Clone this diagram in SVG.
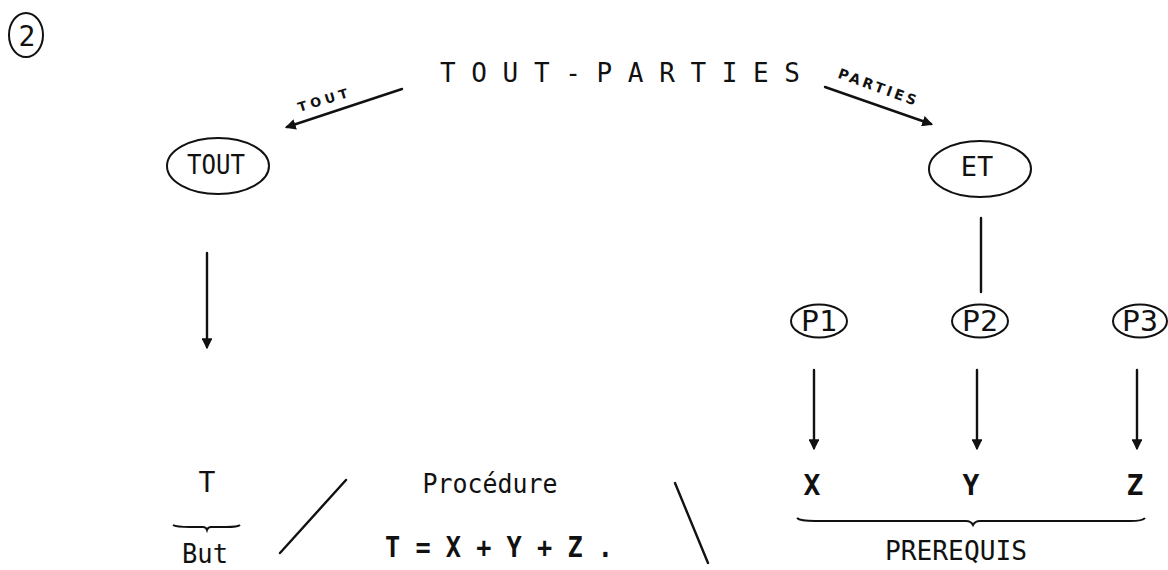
<svg xmlns="http://www.w3.org/2000/svg" width="1168" height="570" viewBox="0 0 1168 570">
  <style>
    .t { font-family: "DejaVu Sans Mono", "Liberation Mono", monospace; fill: #111; }
    .b { font-weight: bold; }
    .h { font-family: "DejaVu Sans", "Liberation Sans", sans-serif; font-weight: bold; fill: #111; }
    .node { fill: none; stroke: #111; stroke-width: 2; }
    .edge { fill: none; stroke: #111; stroke-width: 2.4; stroke-linecap: round; }
  </style>
  <defs>
    <marker id="head" viewBox="0 0 10 10" refX="8" refY="5" markerWidth="4.5" markerHeight="4.5" orient="auto" markerUnits="strokeWidth">
      <path d="M0,0 L10,5 L0,10 Z" fill="#111"/>
    </marker>
  </defs>
  <rect width="1168" height="570" fill="#fff"/>

  <!-- page number -->
  <g id="page-number">
    <ellipse class="node" cx="26" cy="35" rx="17" ry="22"/>
    <text class="t" x="27" y="46" font-size="28" text-anchor="middle">2</text>
  </g>

  <!-- heading -->
  <g id="title">
    <text class="t" x="440" y="82" font-size="26" textLength="360" lengthAdjust="spacingAndGlyphs">T O U T - P A R T I E S</text>
  </g>

  <g id="tout">
    <ellipse class="node" cx="218" cy="166" rx="51" ry="28"/>
    <text class="t" x="216" y="174" font-size="27" text-anchor="middle" textLength="58" lengthAdjust="spacingAndGlyphs">TOUT</text>
  </g>

  <g id="et">
    <ellipse class="node" cx="980" cy="169" rx="51" ry="28"/>
    <text class="t" x="977" y="176" font-size="27" text-anchor="middle">ET</text>
  </g>

  <g id="p1">
    <ellipse class="node" cx="819" cy="321" rx="28" ry="16.5"/>
    <text class="t" x="819" y="331" font-size="28" text-anchor="middle" textLength="36" lengthAdjust="spacingAndGlyphs">P1</text>
  </g>
  <g id="p2">
    <ellipse class="node" cx="980" cy="321" rx="28" ry="16.5"/>
    <text class="t" x="980" y="331" font-size="28" text-anchor="middle" textLength="36" lengthAdjust="spacingAndGlyphs">P2</text>
  </g>
  <g id="p3">
    <ellipse class="node" cx="1140" cy="321" rx="27" ry="16.5"/>
    <text class="t" x="1140" y="331" font-size="28" text-anchor="middle" textLength="36" lengthAdjust="spacingAndGlyphs">P3</text>
  </g>

  <g id="goal">
    <text class="t" x="207" y="492" font-size="28" text-anchor="middle">T</text>
    <path class="node" d="M173,525 Q176,527 190,527 L203,527 Q206,527 207,530 Q208,527 211,527 L226,527 Q238,527 240,525"/>
    <text class="t" x="205" y="563" font-size="27" text-anchor="middle" textLength="46" lengthAdjust="spacingAndGlyphs">But</text>
  </g>

  <g id="procedure">
    <text class="t" x="490" y="493" font-size="26" text-anchor="middle" textLength="135" lengthAdjust="spacingAndGlyphs">Procédure</text>
    <text class="t b" x="499" y="557" font-size="28" text-anchor="middle" textLength="228" lengthAdjust="spacingAndGlyphs">T = X + Y + Z .</text>
  </g>

  <g id="x">
    <text class="t b" x="812" y="495" font-size="28" text-anchor="middle">X</text>
  </g>
  <g id="y">
    <text class="t b" x="971" y="495" font-size="28" text-anchor="middle">Y</text>
  </g>
  <g id="z">
    <text class="t b" x="1135" y="495" font-size="28" text-anchor="middle">Z</text>
  </g>

  <g id="prerequis">
    <path class="node" d="M797,518 Q800,521 815,521 L966,521 Q971,521 973,525 Q975,521 980,521 L1130,521 Q1143,521 1145,518"/>
    <text class="t" x="956" y="560" font-size="26" text-anchor="middle" textLength="142" lengthAdjust="spacingAndGlyphs">PREREQUIS</text>
  </g>

  <!-- connectors -->
  <g id="connectors">
    <line class="edge" x1="402" y1="89" x2="287" y2="127" marker-end="url(#head)"/>
    <line class="edge" x1="825" y1="87" x2="931" y2="124" marker-end="url(#head)"/>
    <line class="edge" x1="207" y1="253" x2="207" y2="347" marker-end="url(#head)"/>
    <line class="edge" x1="981" y1="218" x2="981" y2="292"/>
    <line class="edge" x1="814" y1="370" x2="814" y2="448" marker-end="url(#head)"/>
    <line class="edge" x1="977" y1="370" x2="977" y2="448" marker-end="url(#head)"/>
    <line class="edge" x1="1137" y1="370" x2="1137" y2="448" marker-end="url(#head)"/>
    <line class="edge" x1="280" y1="553" x2="346" y2="480"/>
    <line class="edge" x1="675" y1="483" x2="708" y2="563"/>
    <!-- hand-lettered arrow labels -->
    <text class="h" x="326" y="104" font-size="13" text-anchor="middle" letter-spacing="4" transform="rotate(-17 326 104)">TOUT</text>
    <text class="h" x="877" y="92" font-size="14" text-anchor="middle" letter-spacing="3" transform="rotate(20 877 92)">PARTIES</text>
  </g>
</svg>
